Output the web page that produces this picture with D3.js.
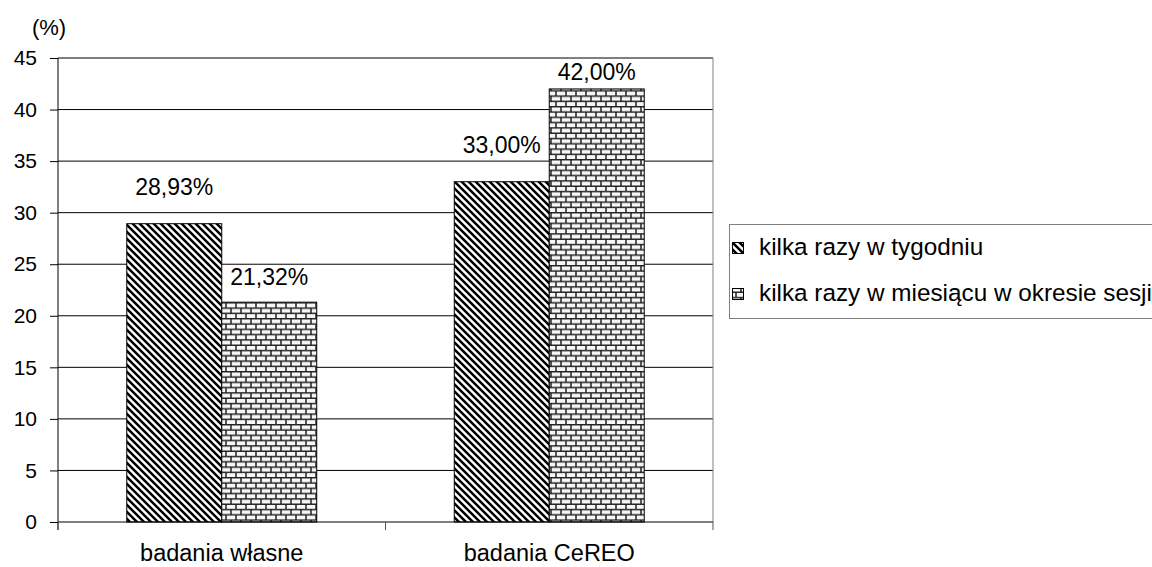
<!DOCTYPE html>
<html><head><meta charset="utf-8">
<script src="https://cdn.jsdelivr.net/npm/d3@7"></script>
<style>html,body{margin:0;padding:0;background:#fff;overflow:hidden}text{font-family:"Liberation Sans",Arial,sans-serif;fill:#000}</style>
</head><body><svg id="c" width="1152" height="567"></svg>
<script>
const categories = ["badania własne", "badania CeREO"];
const seriesNames = ["kilka razy w tygodniu", "kilka razy w miesiącu w okresie sesji"];
const weekly = [28.93, 33.00];
const monthly = [21.32, 42.00];
const valueLabels = [["28,93%", "33,00%"], ["21,32%", "42,00%"]];
const yTicks = [0, 5, 10, 15, 20, 25, 30, 35, 40, 45];
const yUnit = "(%)";
// label gap above bar top (px) per series / category
const labelGap = [[28.5, 29], [17, 9]];

const series = [weekly, monthly];
const svg = d3.select("#c");
const L = 58, R = 713, T = 58, B = 522;
const y = d3.scaleLinear().domain([0, 45]).range([B, T]);
const x0 = d3.scaleBand().domain(categories).range([L, R]).padding(0);
const x1 = d3.scaleBand().domain([0, 1]).range([0, x0.bandwidth()]).paddingInner(0).paddingOuter(0.724);

const defs = svg.append("defs");
const hatch = defs.append("pattern").attr("id", "hatch").attr("patternUnits", "userSpaceOnUse")
  .attr("width", 7).attr("height", 7);
hatch.append("rect").attr("width", 7).attr("height", 7).attr("fill", "#fff");
hatch.append("path").attr("d", "M-1,-1 L8,8 M-1,6 L1,8 M6,-1 L8,1").attr("stroke", "#000").attr("stroke-width", 2.5);
const brick = defs.append("pattern").attr("id", "brick").attr("patternUnits", "userSpaceOnUse")
  .attr("width", 10).attr("height", 10.6);
brick.append("rect").attr("width", 10).attr("height", 10.6).attr("fill", "#f6f6f6");
brick.append("path").attr("d", "M0,0.7 H10 M0,6 H10 M1,0 V6 M6,6 V10.6")
  .attr("stroke", "#222").attr("stroke-width", 1.5).attr("fill", "none");
const fills = ["url(#hatch)", "url(#brick)"];

// gridlines
svg.append("g").selectAll("line").data(yTicks.filter(d => d > 0)).join("line")
  .attr("x1", L).attr("x2", R).attr("y1", d => y(d)).attr("y2", d => y(d))
  .attr("stroke", "#000").attr("stroke-width", 1);
// right border
svg.append("line").attr("x1", R).attr("x2", R).attr("y1", T).attr("y2", B).attr("stroke", "#808080");

// bars
series.forEach((vals, si) => {
  svg.append("g").selectAll("rect").data(vals).join("rect")
    .attr("x", (d, i) => x0(categories[i]) + x1(si))
    .attr("y", d => y(d))
    .attr("width", x1.bandwidth())
    .attr("height", d => B - y(d))
    .attr("fill", fills[si]).attr("stroke", "#000").attr("stroke-width", 1);
  svg.append("g").selectAll("text").data(vals).join("text")
    .attr("x", (d, i) => x0(categories[i]) + x1(si) + x1.bandwidth() / 2)
    .attr("y", (d, i) => y(d) - labelGap[si][i])
    .attr("text-anchor", "middle").attr("font-size", 23)
    .text((d, i) => valueLabels[si][i]);
});

// y axis
const ya = svg.append("g").attr("transform", `translate(${L},0)`)
  .call(d3.axisLeft(y).tickValues(yTicks).tickSize(8).tickPadding(13).tickFormat(d3.format("d")));
ya.select(".domain").remove();
ya.selectAll(".tick line").attr("stroke", "#000");
ya.selectAll(".tick text").attr("font-size", 21).attr("font-family", "Liberation Sans, Arial, sans-serif");
svg.append("line").attr("x1", L).attr("x2", L).attr("y1", T).attr("y2", B + 8).attr("stroke", "#000");

// x axis
const xa = svg.append("g").attr("transform", `translate(0,${B})`)
  .call(d3.axisBottom(x0).tickSize(0).tickPadding(22));
xa.select(".domain").remove();
xa.selectAll(".tick text").attr("font-size", 23.5).attr("font-family", "Liberation Sans, Arial, sans-serif");
svg.append("line").attr("x1", L).attr("x2", R).attr("y1", B).attr("y2", B).attr("stroke", "#000");
svg.append("g").selectAll("line").data([L, (L + R) / 2, R]).join("line")
  .attr("x1", d => d).attr("x2", d => d).attr("y1", B).attr("y2", B + 8).attr("stroke", "#555");

svg.append("text").attr("x", 49).attr("y", 35).attr("text-anchor", "middle").attr("font-size", 22).text(yUnit);

// legend
const lg = svg.append("g");
lg.append("rect").attr("x", 729.5).attr("y", 224.5).attr("width", 500).attr("height", 94)
  .attr("fill", "#fff").attr("stroke", "#808080");
seriesNames.forEach((n, i) => {
  const cy = 248 + i * 46;
  lg.append("rect").attr("x", 732.5).attr("y", cy - 5.5).attr("width", 11).attr("height", 11)
    .attr("fill", fills[i]).attr("stroke", "#000");
  lg.append("text").attr("x", 759).attr("y", cy + 7).attr("font-size", 24.3).text(n);
});
</script></body></html>
